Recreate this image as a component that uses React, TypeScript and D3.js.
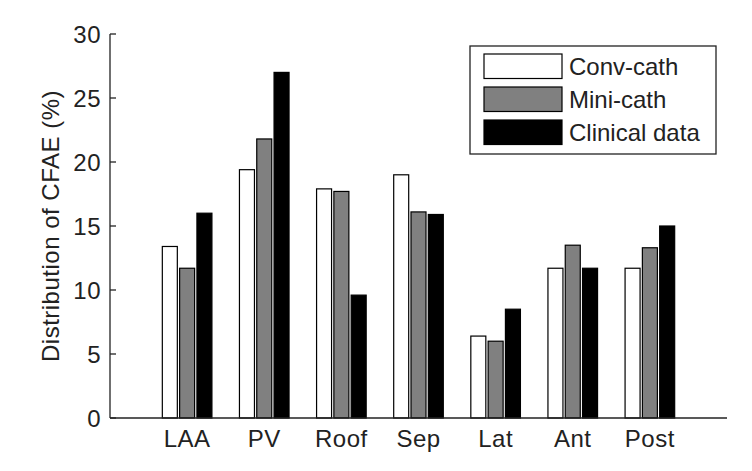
import React from "react";
import * as d3 from "d3";

const categories = ["LAA", "PV", "Roof", "Sep", "Lat", "Ant", "Post"];
const seriesNames = ["Conv-cath", "Mini-cath", "Clinical data"];
const convCath = [13.4, 19.4, 17.9, 19.0, 6.4, 11.7, 11.7];
const miniCath = [11.7, 21.8, 17.7, 16.1, 6.0, 13.5, 13.3];
const clinical = [16.0, 27.0, 9.6, 15.9, 8.5, 11.7, 15.0];
const yTicks = [0, 5, 10, 15, 20, 25, 30];
const seriesFill = ["#ffffff", "#808080", "#000000"];

const W = 752;
const H = 471;
const FONT = "'Liberation Sans', Arial, Helvetica, sans-serif";

export default function App() {
  const series = [convCath, miniCath, clinical];
  const x0 = 110, x1 = 727, yTop = 34, yBot = 418;
  const x = d3.scaleLinear().domain([0, 8]).range([x0, x1]);
  const y = d3.scaleLinear().domain([0, 30]).range([yBot, yTop]);
  const step = 17.3;
  const bw = 15;

  return (
    <svg width={W} height={H} style={{ position: "absolute", left: 0, top: 0, background: "#fff" }}>
      <rect x={0} y={0} width={W} height={H} fill="#fff" />
      {categories.map((c, i) =>
        series.map((s, k) => {
          const cx = x(i + 1) + (k - 1) * step;
          return (
            <rect
              key={c + k}
              x={cx - bw / 2}
              y={y(s[i])}
              width={bw}
              height={y(0) - y(s[i])}
              fill={seriesFill[k]}
              stroke="#000"
              strokeWidth={1.2}
            />
          );
        })
      )}
      <line x1={x0} x2={x0} y1={yTop} y2={yBot} stroke="#222" strokeWidth={1.3} />
      <line x1={x0} x2={x1} y1={yBot} y2={yBot} stroke="#222" strokeWidth={1.3} />
      {yTicks.map((t) => (
        <g key={t}>
          <line x1={x0} x2={x0 + 6} y1={y(t)} y2={y(t)} stroke="#222" strokeWidth={1.3} />
          <text
            x={x0 - 9}
            y={y(t)}
            textAnchor="end"
            dominantBaseline="central"
            fontFamily={FONT}
            fontSize={24}
            letterSpacing={0.5}
            fill="#222"
          >
            {t}
          </text>
        </g>
      ))}
      {categories.map((c, i) => (
        <text
          key={c}
          x={x(i + 1)}
          y={447}
          textAnchor="middle"
          fontFamily={FONT}
          fontSize={24}
          letterSpacing={0.5}
          fill="#222"
        >
          {c}
        </text>
      ))}
      <text
        transform={`translate(50,${(yTop + yBot) / 2}) rotate(-90)`}
        textAnchor="middle"
        dominantBaseline="central"
        fontFamily={FONT}
        fontSize={24}
        letterSpacing={0.5}
        fill="#222"
      >
        Distribution of CFAE (%)
      </text>
      <g>
        <rect x={470} y={46} width={246} height={108} fill="#fff" stroke="#222" strokeWidth={1.3} />
        {seriesNames.map((n, k) => (
          <g key={n}>
            <rect
              x={484}
              y={54 + k * 33}
              width={78}
              height={24.5}
              fill={seriesFill[k]}
              stroke="#000"
              strokeWidth={1.2}
            />
            <text
              x={569}
              y={66.5 + k * 33}
              dominantBaseline="central"
              fontFamily={FONT}
              fontSize={24}
              fill="#222"
            >
              {n}
            </text>
          </g>
        ))}
      </g>
    </svg>
  );
}
